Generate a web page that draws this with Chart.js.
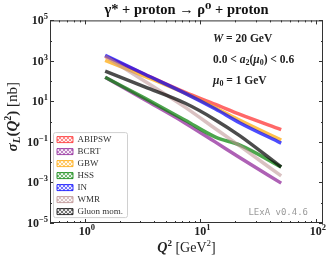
<!DOCTYPE html>
<html>
<head>
<meta charset="utf-8">
<script src="https://cdn.jsdelivr.net/npm/chart.js@4.4.1/dist/chart.umd.min.js"></script>
<style>
  html, body { margin: 0; padding: 0; background: #fff; }
  #wrap { width: 329px; height: 260px; }
</style>
</head>
<body>
<div id="wrap"><canvas id="sigma-chart" width="329" height="260"></canvas></div>
<script>
// Q^2 sample points [GeV^2]
var q2 = [1.5, 3.3, 7.4, 13.5, 22, 50];

// sigma_L [nb] for each model
var abipsw  = [1700, 219, 28, 7.2, 2.3, 0.41];
var bcrt    = [155, 12, 0.85, 0.098, 0.0166, 0.00093];
var gbw     = [1070, 174, 25, 4.9, 1.17, 0.123];
var hss     = [155, 14.5, 1.17, 0.174, 0.069, 0.0058];
var inModel = [1900, 219, 25, 4.2, 0.87, 0.087];
var wmr     = [1700, 100, 5.1, 0.45, 0.062, 0.0021];
var gluon   = [310, 52, 8.1, 1.23, 0.2, 0.0058];

var modelNames  = ["ABIPSW", "BCRT", "GBW", "HSS", "IN", "WMR", "Gluon mom."];
var modelValues = [abipsw, bcrt, gbw, hss, inModel, wmr, gluon];
var modelColors = [
    [255, 40, 40], [140, 30, 150], [255, 165, 0], [0, 128, 0],
    [0, 0, 255], [188, 143, 143], [0, 0, 0]
];

// axis ticks
var xMajor = [1, 10, 100];
var xMinor = [0.6, 0.7, 0.8, 0.9, 2, 3, 4, 5, 6, 7, 8, 9, 20, 30, 40, 50, 60, 70, 80, 90];
var yMajor = [1e-5, 1e-4, 1e-3, 1e-2, 1e-1, 1, 10, 100, 1e3, 1e4, 1e5];

var SERIF = '"Liberation Serif", "DejaVu Serif", serif';

function rgba(c, a) { return "rgba(" + c[0] + "," + c[1] + "," + c[2] + "," + a + ")"; }

function expOf(v) { return Math.round(Math.log10(v)); }

// hatched fill for the legend patches
function hatch(c) {
    var cv = document.createElement("canvas");
    cv.width = 4; cv.height = 4;
    var g = cv.getContext("2d");
    g.fillStyle = rgba(c, 0.55);
    g.fillRect(0, 0, 4, 4);
    g.strokeStyle = "rgba(255,255,255,0.85)";
    g.lineWidth = 1;
    g.beginPath();
    g.moveTo(0, 0); g.lineTo(4, 4);
    g.moveTo(4, 0); g.lineTo(0, 4);
    g.stroke();
    return g.createPattern(cv, "repeat");
}

// draw a line of mixed-font text: runs = [text, font, dy]
function drawRuns(ctx, runs, x, y, align) {
    var w = 0;
    runs.forEach(function (r) { ctx.font = r[1]; w += ctx.measureText(r[0]).width; });
    var cx = x;
    if (align === "center") cx = x - w / 2;
    if (align === "right") cx = x - w;
    ctx.textAlign = "left";
    ctx.textBaseline = "alphabetic";
    runs.forEach(function (r) {
        ctx.font = r[1];
        ctx.fillText(r[0], cx, y + (r[2] || 0));
        cx += ctx.measureText(r[0]).width;
    });
}

function powRuns(v) {
    var e = String(expOf(v)).replace("-", "\u2212");
    return [["10", "bold 12px " + SERIF], [e, "bold 8.5px " + SERIF, -5]];
}

var datasets = modelNames.map(function (name, i) {
    return {
        label: name,
        data: q2.map(function (q, j) { return { x: q, y: modelValues[i][j] }; }),
        borderColor: rgba(modelColors[i], i === 5 ? 0.55 : 0.7),
        backgroundColor: hatch(modelColors[i]),
        borderWidth: 3.5,
        pointRadius: 0,
        fill: false,
        cubicInterpolationMode: "monotone",
        order: modelNames.length - i
    };
});

var framePlugin = {
    id: "frame",
    afterLayout: function (chart) {
        var lg = chart.legend;
        if (!lg) return;
        lg.left += 4; lg.right += 4;
        lg.top += 16.5; lg.bottom += 16.5;
    },
    afterDraw: function (chart) {
        var ctx = chart.ctx, a = chart.chartArea;
        var xs = chart.scales.x, ys = chart.scales.y;
        ctx.save();
        ctx.strokeStyle = "#333";
        ctx.lineWidth = 1;
        ctx.strokeRect(a.left + 0.5, a.top + 0.5, a.right - a.left - 1, a.bottom - a.top - 1);

        // inward ticks on all four sides
        ctx.beginPath();
        function xTick(v, len) {
            var px = Math.round(xs.getPixelForValue(v)) + 0.5;
            ctx.moveTo(px, a.bottom); ctx.lineTo(px, a.bottom - len);
            ctx.moveTo(px, a.top); ctx.lineTo(px, a.top + len);
        }
        function yTick(v, len) {
            var py = Math.round(ys.getPixelForValue(v)) + 0.5;
            ctx.moveTo(a.left, py); ctx.lineTo(a.left + len, py);
            ctx.moveTo(a.right, py); ctx.lineTo(a.right - len, py);
        }
        xMajor.forEach(function (v) { xTick(v, 4); });
        xMinor.forEach(function (v) { xTick(v, 2); });
        yMajor.forEach(function (v) { yTick(v, Math.abs(expOf(v)) % 2 === 1 ? 4 : 2); });
        ctx.stroke();

        // tick labels, placed with the scales
        ctx.fillStyle = "#222";
        xMajor.forEach(function (v) {
            drawRuns(ctx, powRuns(v), xs.getPixelForValue(v) + 2, a.bottom + 12, "center");
        });
        yMajor.forEach(function (v) {
            if (Math.abs(expOf(v)) % 2 !== 1) return;
            drawRuns(ctx, powRuns(v), a.left - 2, ys.getPixelForValue(v) + 4, "right");
        });

        // legend frame
        var lg = chart.legend;
        if (lg && lg.legendHitBoxes.length) {
            ctx.strokeStyle = "#d0d0d0";
            ctx.beginPath();
            ctx.roundRect(lg.left - 0.5, lg.bottom - 86.5, 74, 85, 2);
            ctx.stroke();
        }

        // axis titles
        drawRuns(ctx, [
            ["Q", "bold italic 14px " + SERIF],
            ["2", "bold 9px " + SERIF, -6],
            [" [GeV", "14px " + SERIF],
            ["2", "9px " + SERIF, -6],
            ["]", "14px " + SERIF]
        ], (a.left + a.right) / 2, 252, "center");

        ctx.save();
        ctx.translate(17, (a.top + a.bottom) / 2 - 5);
        ctx.rotate(-Math.PI / 2);
        drawRuns(ctx, [
            ["\u03C3", "bold italic 15px " + SERIF],
            ["L", "bold italic 11px " + SERIF, 3],
            ["(", "bold 15px " + SERIF],
            ["Q", "bold italic 15px " + SERIF],
            ["2", "bold 10px " + SERIF, -6],
            [")", "bold 15px " + SERIF],
            [" [nb]", "15px " + SERIF]
        ], 0, 0, "center");
        ctx.restore();

        // kinematics annotation
        var B = "bold 11.5px " + SERIF, BI = "bold italic 11.5px " + SERIF, S = "bold 8px " + SERIF;
        drawRuns(ctx, [["W", BI], [" = 20 GeV", B]], 213, 42, "left");
        drawRuns(ctx, [["0.0 < ", B], ["a", BI], ["2", S, 2], ["(", B], ["\u03BC", BI], ["0", S, 2], [") < 0.6", B]], 213, 63, "left");
        drawRuns(ctx, [["\u03BC", BI], ["0", S, 2], [" = 1 GeV", B]], 213, 84, "left");

        // version stamp
        ctx.fillStyle = "#9a9a9a";
        ctx.font = '9px "DejaVu Sans Mono", monospace';
        ctx.textAlign = "right";
        ctx.textBaseline = "middle";
        ctx.fillText("LExA v0.4.6", a.right - 15, 213);
        ctx.restore();
    }
};

var ctx = document.getElementById("sigma-chart");

var chartOptions = {
    responsive: false,
    animation: false,
    devicePixelRatio: 1,
    layout: { padding: { left: 0, right: 6, top: 0, bottom: 0 } },
    plugins: {
        title: {
            display: true,
            fullSize: false,
            text: "\u03B3* + proton \u2192 \u03C1\u2070 + proton",
            color: "#111",
            font: { family: SERIF, size: 14.5, weight: "bold" },
            padding: { top: 2, bottom: 1 }
        },
        legend: {
            position: "chartArea",
            align: "end",
            labels: {
                boxWidth: 16,
                boxHeight: 6,
                padding: 3,
                color: "#333",
                font: { family: SERIF, size: 9 },
                sort: function (a, b) { return a.datasetIndex - b.datasetIndex; },
                generateLabels: function (chart) {
                    return Chart.defaults.plugins.legend.labels.generateLabels(chart).map(function (l) {
                        l.lineWidth = 1;
                        l.strokeStyle = rgba(modelColors[l.datasetIndex], 0.8);
                        return l;
                    });
                }
            }
        },
        tooltip: { enabled: false }
    },
    scales: {
        x: {
            type: "logarithmic",
            min: 0.5,
            max: 115,
            grid: { display: false },
            border: { display: false },
            ticks: { display: false },
            afterFit: function (s) { s.height = 37; }
        },
        y: {
            type: "logarithmic",
            min: 1e-5,
            max: 1e5,
            grid: { display: false },
            border: { display: false },
            ticks: { display: false },
            afterFit: function (s) { s.width = 50; }
        }
    }
};

var sigmaChart = new Chart(ctx, {
    type: "line",
    data: { datasets: datasets },
    options: chartOptions,
    plugins: [framePlugin]
});
</script>
</body>
</html>
